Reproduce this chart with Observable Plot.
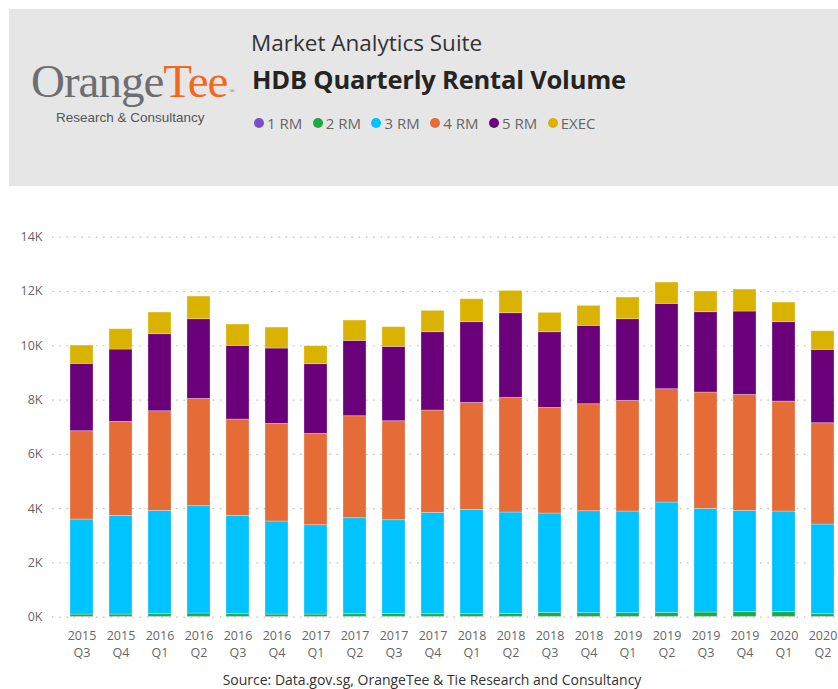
<!DOCTYPE html>
<html>
<head>
<meta charset="utf-8">
<script src="https://cdn.jsdelivr.net/npm/d3@7"></script>
<script src="https://cdn.jsdelivr.net/npm/@observablehq/plot@0.6"></script>
<style>
  html, body { margin: 0; padding: 0; background: #fff; overflow: hidden; width: 838px; height: 689px; }
  body { position: relative; font-family: "Open Sans", "Segoe UI", sans-serif; }
  #header { position: absolute; left: 9px; top: 9px; width: 829px; height: 177px; background: #e6e6e6; }
  #logo { position: absolute; left: 31px; top: 58px; font-family: "Liberation Serif", "DejaVu Serif", serif; font-size: 47px; line-height: 1; color: #6d6e71; letter-spacing: -1px; white-space: nowrap; }
  #logo .tee { color: #f26722; }
  #logo sup { font-size: 7px; color: #6d6e71; vertical-align: 0; position: relative; top: -4px; margin-left: 2px; }
  #logosub { position: absolute; left: 56px; top: 110px; font-family: "Liberation Sans", Arial, sans-serif; font-size: 13.5px; color: #555; white-space: nowrap; }
  #suite { position: absolute; left: 251px; top: 27px; font-size: 22.5px; color: #333; white-space: nowrap; }
  #title { position: absolute; left: 252px; top: 62px; font-size: 25.5px; font-weight: 700; color: #252423; white-space: nowrap; letter-spacing: -0.2px; }
  #legend { position: absolute; left: 254px; top: 113px; font-size: 15px; color: #666; white-space: nowrap; display: flex; }
  #legend .item { display: flex; align-items: center; margin-right: 10.5px; }
  #legend .dot { width: 10px; height: 10px; border-radius: 50%; margin-right: 3px; }
  #chart { position: absolute; left: 0; top: 200px; }
  #chart svg { max-width: none !important; }
  #source { position: absolute; left: 0; width: 864px; top: 670px; text-align: center; font-size: 14px; color: #333; white-space: nowrap; }
</style>
</head>
<body>
<div id="header">
</div>
<div id="logo">Orange<span class="tee">Tee</span><sup>®</sup></div>
<div id="logosub">Research &amp; Consultancy</div>
<div id="suite">Market Analytics Suite</div>
<div id="title">HDB Quarterly Rental Volume</div>
<div id="legend"></div>
<div id="chart"></div>
<div id="source">Source: Data.gov.sg, OrangeTee &amp; Tie Research and Consultancy</div>
<script>
const quarters = ["2015 Q3","2015 Q4","2016 Q1","2016 Q2","2016 Q3","2016 Q4","2017 Q1","2017 Q2","2017 Q3","2017 Q4",
                  "2018 Q1","2018 Q2","2018 Q3","2018 Q4","2019 Q1","2019 Q2","2019 Q3","2019 Q4","2020 Q1","2020 Q2"];
const flatTypes = ["1 RM","2 RM","3 RM","4 RM","5 RM","EXEC"];
const typeColors = ["#7b4fc9","#1aab40","#00c4ff","#e66c37","#6b007b","#d9b300"];
const rm1  = [15,15,15,15,15,15,15,15,15,15,15,15,15,15,15,15,15,15,15,15];
const rm2  = [83,83,95,120,95,83,83,95,108,95,95,108,145,132,132,145,157,169,169,95];
const rm3  = [3500,3635,3807,3954,3623,3426,3291,3537,3450,3734,3844,3733,3659,3758,3746,4064,3819,3733,3709,3304];
const rm4  = [3254,3463,3672,3954,3549,3598,3365,3758,3648,3770,3942,4224,3893,3942,4077,4176,4286,4274,4052,3733];
const rm5  = [2481,2665,2837,2935,2714,2776,2567,2775,2738,2885,2972,3119,2787,2886,3008,3143,2959,3070,2923,2702];
const exec = [675,749,798,835,786,773,663,749,725,786,847,823,713,737,799,786,762,810,724,687];
const yTicks = [0,2000,4000,6000,8000,10000,12000,14000];

const series = [rm1, rm2, rm3, rm4, rm5, exec];
const data = [];
quarters.forEach((q, i) => {
  flatTypes.forEach((t, j) => data.push({quarter: q, type: t, value: series[j][i]}));
});

// legend
const legend = document.getElementById("legend");
flatTypes.forEach((t, j) => {
  const item = document.createElement("div");
  item.className = "item";
  const dot = document.createElement("span");
  dot.className = "dot";
  dot.style.background = typeColors[j];
  const lab = document.createElement("span");
  lab.textContent = t;
  item.appendChild(dot); item.appendChild(lab);
  legend.appendChild(item);
});

const W = 838, H = 465;
const pad = 0.4;
const xStart = 51.9, xEnd = 851.6;

const chart = Plot.plot({
  width: W,
  height: H,
  marginTop: 36.7,
  marginBottom: 48.3,
  marginLeft: 52,
  marginRight: 0,
  style: {fontFamily: "'Open Sans', 'Segoe UI', sans-serif", fontSize: "12px", background: "transparent"},
  x: {domain: quarters, range: [xStart, xEnd], padding: pad, axis: null},
  y: {domain: [0, 14000], axis: null},
  color: {domain: flatTypes, range: typeColors},
  marks: [
    Plot.gridY(yTicks, {stroke: "#bbb", strokeOpacity: 1, strokeDasharray: "1.5,5.8", strokeWidth: 1.2}),
    Plot.axisY(yTicks, {tickSize: 0, tickPadding: 10, tickFormat: d => (d / 1000) + "K", color: "#666", fontSize: 12.5, label: null}),
    Plot.axisX({tickSize: 0, tickPadding: 14, tickFormat: d => d.split(" ")[0], color: "#666", fontSize: 12.5, label: null}),
    Plot.axisX({tickSize: 0, tickPadding: 31, tickFormat: d => d.split(" ")[1], color: "#666", fontSize: 12.5, label: null}),
    Plot.barY(data, {x: "quarter", y: "value", fill: "type", stroke: "#fff", strokeOpacity: 0.35, strokeWidth: 0.8})
  ]
});
document.getElementById("chart").appendChild(chart);
</script>
</body>
</html>
